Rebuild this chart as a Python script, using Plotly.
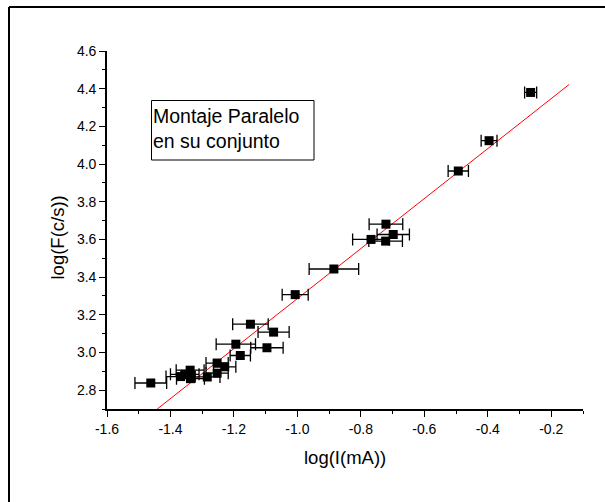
import plotly.graph_objects as go

# ---- data ----
log_I = [-0.265, -0.396, -0.493, -0.721, -0.698, -0.768, -0.722, -0.885, -1.007,
         -1.148, -1.075, -1.194, -1.096, -1.180, -1.253, -1.229, -1.253, -1.338,
         -1.284, -1.368, -1.337, -1.462, -1.355]
log_F = [4.380, 4.124, 3.963, 3.681, 3.626, 3.600, 3.591, 3.443, 3.307,
         3.150, 3.108, 3.044, 3.025, 2.984, 2.944, 2.924, 2.890, 2.906,
         2.870, 2.872, 2.861, 2.838, 2.884]
err_I = [0.019, 0.025, 0.032, 0.053, 0.051, 0.058, 0.053, 0.078, 0.041,
         0.056, 0.049, 0.062, 0.051, 0.032, 0.035, 0.035, 0.035, 0.044,
         0.040, 0.046, 0.044, 0.050, 0.045]

fit_intercept = 4.613
fit_slope = 1.327
fit_x = [-1.442, -0.144]
fit_y = [fit_intercept + fit_slope * v for v in fit_x]

x_ticks = [-1.6, -1.4, -1.2, -1.0, -0.8, -0.6, -0.4, -0.2]
y_ticks = [2.8, 3.0, 3.2, 3.4, 3.6, 3.8, 4.0, 4.2, 4.4, 4.6]
x_ticktext = [f"{v:.1f}" for v in x_ticks]
y_ticktext = [f"{v:.1f}" for v in y_ticks]

# ---- layout geometry (pixels) ----
W, H = 605, 502
ML, MR, MT, MB = 107, 22, 51, 93
PW, PH = W - ML - MR, H - MT - MB


def px(xp):
    return (xp - ML) / PW


def py(yp):
    return (H - MB - yp) / PH


FONT = "Arial, Liberation Sans, sans-serif"

fig = go.Figure()
fig.add_trace(go.Scatter(
    x=fit_x, y=fit_y, mode="lines",
    line=dict(color="#ff0000", width=1), showlegend=False, hoverinfo="skip"))
fig.add_trace(go.Scatter(
    x=log_I, y=log_F, mode="markers",
    marker=dict(symbol="square", size=9, color="black"),
    error_x=dict(type="data", array=err_I, visible=True, color="black",
                 thickness=1.3, width=6),
    showlegend=False))

axis_common = dict(
    showgrid=False, zeroline=False, showline=True, linecolor="black", linewidth=1.6,
    ticks="outside", ticklen=6, tickwidth=1.3, tickcolor="black",
    tickfont=dict(family=FONT, size=14, color="black"),
    mirror=False,
)

fig.update_xaxes(range=[-1.6, -0.1], tickvals=x_ticks, ticktext=x_ticktext,
                 minor=dict(dtick=0.1, tick0=-1.6, ticks="outside", ticklen=3.5,
                            tickwidth=1.3, tickcolor="black"),
                 **axis_common)
fig.update_yaxes(range=[2.7, 4.6], tickvals=y_ticks, ticktext=y_ticktext,
                 minor=dict(dtick=0.1, tick0=2.7, ticks="outside", ticklen=3.5,
                            tickwidth=1.3, tickcolor="black"),
                 **axis_common)

shapes = [
    # outer frame (top and left)
    dict(type="line", xref="paper", yref="paper", x0=px(9), x1=px(W + 2), y0=py(7), y1=py(7),
         line=dict(color="black", width=2)),
    dict(type="line", xref="paper", yref="paper", x0=px(9), x1=px(9), y0=py(7), y1=py(H + 2),
         line=dict(color="black", width=2)),
    # text box
    dict(type="rect", xref="paper", yref="paper", x0=px(151.5), x1=px(314), y0=py(100.5), y1=py(160),
         line=dict(color="black", width=1), fillcolor="rgba(0,0,0,0)"),
]

annotations = [
    dict(text="Montaje Paralelo<br>en su conjunto", xref="paper", yref="paper",
         x=px(151), y=py(103), xanchor="left", yanchor="top", align="left",
         showarrow=False, font=dict(family=FONT, size=19.5, color="black")),
    dict(text="log(I(mA))", xref="paper", yref="paper", x=px(344.7), y=py(457),
         xanchor="center", yanchor="middle", showarrow=False,
         font=dict(family=FONT, size=18.5, color="black")),
    dict(text="log(F(c/s))", xref="paper", yref="paper", x=px(56.5), y=py(238),
         xanchor="center", yanchor="middle", textangle=-90, showarrow=False,
         font=dict(family=FONT, size=18.5, color="black")),
]

fig.update_layout(
    width=W, height=H,
    margin=dict(l=ML, r=MR, t=MT, b=MB, pad=0),
    paper_bgcolor="white", plot_bgcolor="white",
    shapes=shapes, annotations=annotations,
    font=dict(family=FONT, color="black"),
)

fig.write_html("out.html")
